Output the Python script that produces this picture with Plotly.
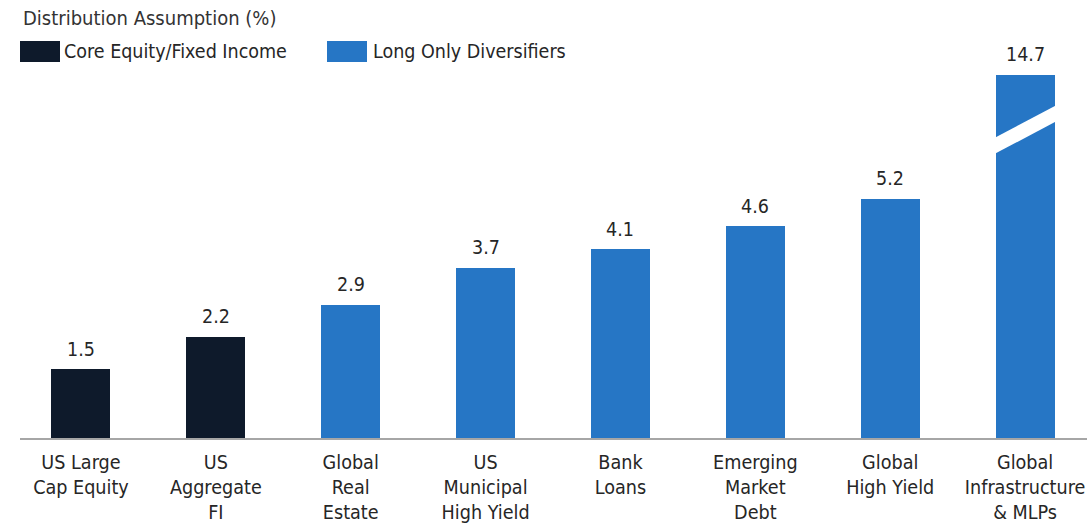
import plotly.graph_objects as go

# Distribution assumptions by asset class (%)
categories = [
    "US Large<br>Cap Equity",
    "US<br>Aggregate<br>FI",
    "Global<br>Real<br>Estate",
    "US<br>Municipal<br>High Yield",
    "Bank<br>Loans",
    "Emerging<br>Market<br>Debt",
    "Global<br>High Yield",
    "Global<br>Infrastructure<br>& MLPs",
]
values = [1.5, 2.2, 2.9, 3.7, 4.1, 4.6, 5.2, 14.7]
groups = ["core", "core", "div", "div", "div", "div", "div", "div"]

group_names = {"core": "Core Equity/Fixed Income", "div": "Long Only Diversifiers"}
group_colors = {"core": "#0e1a2b", "div": "#2676c5"}

# Broken value axis: the span between BREAK_LO and BREAK_HI is cut out
BREAK_LO = 6.7
BREAK_HI = 13.5


def to_axis(v):
    return v if v <= BREAK_LO else BREAK_LO + (v - BREAK_HI)


FONT = "Liberation Sans Narrow, DejaVu Sans Condensed, Roboto Condensed, Roboto, sans-serif"
TEXT = "#262626"
BAR_W = 0.437

W, H = 1087, 526
pl, pr, pt, pb = 20, 0, 60, 88
pw, ph = W - pl - pr, H - pt - pb


def px(xp):
    return (xp - pl) / pw


def py(yp):
    return (H - pb - yp) / ph


xs = list(range(len(categories)))
ys = [to_axis(v) for v in values]

fig = go.Figure()
fig.add_trace(go.Bar(
    x=xs,
    y=ys,
    width=BAR_W,
    marker=dict(color=[group_colors[g] for g in groups], line=dict(width=0)),
    showlegend=False,
    hovertemplate="%{customdata:.1f}<extra></extra>",
    customdata=values,
))

# Value labels above each bar
for x, y, v in zip(xs, ys, values):
    fig.add_annotation(x=x, y=y, xref="x", yref="y", text=f"{v:.1f}",
                       showarrow=False, yanchor="middle", yshift=20,
                       font=dict(family=FONT, size=19.5, color=TEXT))

# White slash marking the axis break on bars that cross it
for x, v in zip(xs, values):
    if v > BREAK_HI:
        x0, x1 = x - BAR_W / 2 - 0.02, x + BAR_W / 2 + 0.02
        rise, thick = 0.74, 0.35
        yb = BREAK_LO - rise / 2
        fig.add_shape(
            type="path",
            path=(f"M {x0},{yb - thick / 2} L {x1},{yb + rise - thick / 2} "
                  f"L {x1},{yb + rise + thick / 2} L {x0},{yb + thick / 2} Z"),
            xref="x", yref="y", fillcolor="white", line=dict(width=0), layer="above",
        )

fig.update_layout(
    width=W, height=H,
    margin=dict(l=pl, r=pr, t=pt, b=pb),
    paper_bgcolor="white", plot_bgcolor="white",
    bargap=0,
    xaxis=dict(
        range=[-0.452, 7.459],
        tickmode="array", tickvals=xs, ticktext=categories,
        tickfont=dict(family=FONT, size=19.6, color=TEXT),
        showgrid=False, zeroline=False,
        showline=True, linecolor="#a6a6a6", linewidth=2,
        ticks="outside", ticklen=5, tickcolor="rgba(0,0,0,0)",
        automargin=False,
    ),
    yaxis=dict(range=[0, 8.217], visible=False, automargin=False),
    font=dict(family=FONT, color=TEXT),
)

# Title and legend
fig.add_annotation(text="Distribution Assumption (%)", x=px(21), y=py(18), xref="paper", yref="paper",
                   xanchor="left", yanchor="middle", showarrow=False,
                   font=dict(family=FONT, size=20, color="#333333"))

legend_items = [("core", 20, 62), ("div", 327, 371)]
for g, box_x, text_x in legend_items:
    fig.add_shape(type="rect", xref="paper", yref="paper",
                  x0=px(box_x), x1=px(box_x + 40), y0=py(62), y1=py(41),
                  fillcolor=group_colors[g], line=dict(width=0))
    fig.add_annotation(text=group_names[g], x=px(text_x), y=py(51.5), xref="paper", yref="paper",
                       xanchor="left", yanchor="middle", showarrow=False,
                       font=dict(family=FONT, size=19.5, color=TEXT))

fig.write_html("out.html")
